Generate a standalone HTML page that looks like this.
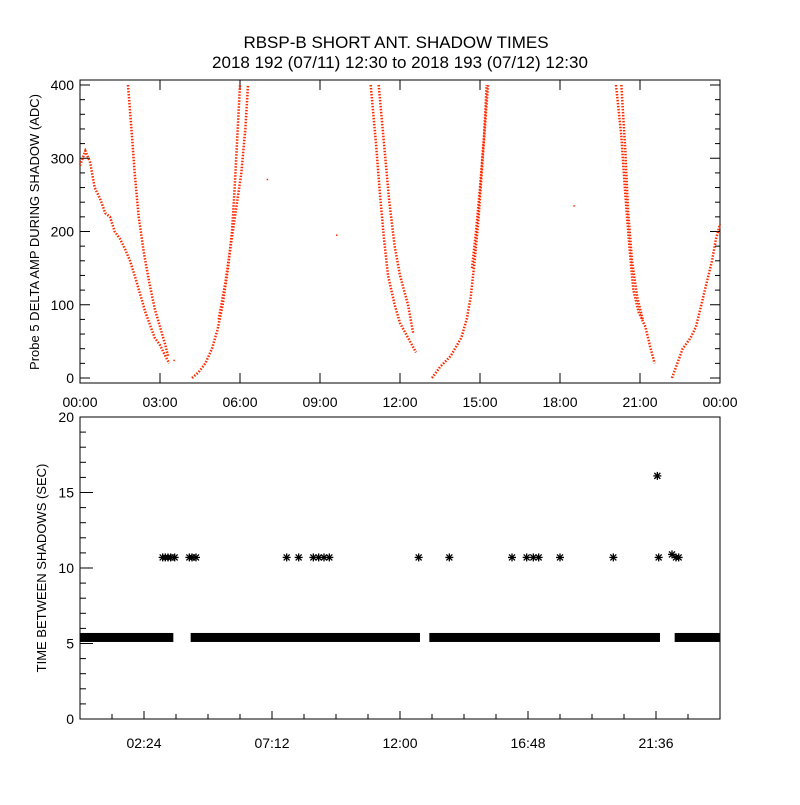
<!DOCTYPE html>
<html><head><meta charset="utf-8"><style>
body{margin:0;background:#fff}
svg text{font-family:"Liberation Sans",sans-serif;fill:#000}
</style></head><body>
<svg id="c" width="800" height="800" xmlns="http://www.w3.org/2000/svg">
<rect width="800" height="800" fill="#fff"/>
<text x="396" y="48" text-anchor="middle" font-size="17">RBSP-B SHORT ANT. SHADOW TIMES</text>
<text x="400" y="68" text-anchor="middle" font-size="17">2018 192 (07/11) 12:30 to 2018 193 (07/12) 12:30</text>
<g id="topPanel"></g>
<g id="botPanel"></g>
</svg>
<script>
// ---- top panel data (hours, ADC) ----
const topTicksX = ["00:00","03:00","06:00","09:00","12:00","15:00","18:00","21:00","00:00"];
const topTicksY = [0,100,200,300,400];
const pass1a = [[0,290],[0.2,310],[0.375,295],[0.55,260],[0.75,245],[0.95,225],[1.125,220],[1.3,200],[1.5,190],[1.7,175],[1.875,160],[2.05,140],[2.25,115],[2.45,90],[2.6,75],[2.8,55],[3.0,45],[3.2,30],[3.35,20]];
const pass1b = [[1.8,400],[1.95,330],[2.05,280],[2.2,220],[2.4,170],[2.6,130],[2.8,95],[3.0,70],[3.2,45],[3.3,30]];
const pass2a = [[4.2,0],[4.45,8],[4.7,20],[4.95,40],[5.15,65],[5.35,100],[5.55,150],[5.7,200],[5.8,260],[5.9,330],[6.0,400]];
const pass2b = [[5.2,80],[5.45,130],[5.65,180],[5.85,230],[6.05,280],[6.2,340],[6.3,400]];
const pass3a = [[10.9,400],[11.1,320],[11.25,250],[11.4,190],[11.55,140],[11.8,100],[12.0,75],[12.3,55],[12.6,35]];
const pass3b = [[11.2,400],[11.4,320],[11.6,240],[11.8,180],[12.0,140],[12.3,100],[12.5,60]];
const pass4a = [[13.2,0],[13.5,15],[13.9,30],[14.3,55],[14.5,80],[14.65,110],[14.8,160],[14.95,220],[15.1,300],[15.3,400]];
const pass4b = [[14.7,150],[14.85,200],[15.0,260],[15.15,330],[15.25,400]];
const pass5a = [[20.1,400],[20.3,330],[20.45,250],[20.6,180],[20.75,120],[20.95,90],[21.2,70],[21.4,40],[21.55,20]];
const pass5b = [[20.3,400],[20.45,310],[20.55,230],[20.7,160],[20.9,110],[21.1,80]];
const pass6 = [[22.2,0],[22.4,20],[22.6,40],[22.9,55],[23.1,70],[23.3,100],[23.5,130],[23.7,160],[23.85,190],[24,210]];
const strayT = [7.0,9.6,18.5,3.5];
const strayV = [272,196,236,25];
// ---- bottom panel data ----
const botTicksLabels = ["02:24","07:12","12:00","16:48","21:36"];
const botTicksY = [0,5,10,15,20];
const baseValue = 5.4;
const baseSegments = [[0,3.5],[4.15,12.75],[13.1,21.75],[22.3,24]];
const highT = [3.1,3.2,3.3,3.4,3.55,4.1,4.2,4.35,7.75,8.2,8.75,8.95,9.15,9.35,12.7,13.85,16.2,16.75,17.0,17.2,18.0,20.0,21.7,22.2,22.35,22.45];
const highV = [10.7,10.7,10.7,10.7,10.7,10.7,10.7,10.7,10.7,10.7,10.7,10.7,10.7,10.7,10.7,10.7,10.7,10.7,10.7,10.7,10.7,10.7,10.7,10.9,10.7,10.7];
const peakT = [21.65];
const peakV = [16.1];

const NS="http://www.w3.org/2000/svg";
function mk(tag,attrs,parent){const e=document.createElementNS(NS,tag);for(const k in attrs)e.setAttribute(k,attrs[k]);parent.appendChild(e);return e;}
const tx=h=>80+h/24*640;
const ty=v=>378-v*293/400;
const bx=h=>80+h/24*640;
const by=v=>719-v*15.1;

const topG=document.getElementById('topPanel');
let r=mk('rect',{x:80,y:80,width:640,height:303,fill:'none',stroke:'#000','stroke-width':1},topG);


for(let v=0;v<=400;v+=20){const big=v%100===0;const l=mk('line',{x1:80,x2:big?90:85,y1:ty(v),y2:ty(v),stroke:'#000'},topG);


const l2=mk('line',{x1:720,x2:big?710:715,y1:ty(v),y2:ty(v),stroke:'#000'},topG);

}
topTicksY.forEach(v=>{const t=mk('text',{x:74,y:ty(v)+5,'text-anchor':'end','font-size':14},topG);t.textContent=v;

});
topTicksX.forEach((s,i)=>{const x=tx(i*3);const l=mk('line',{x1:x,x2:x,y1:383,y2:373,stroke:'#000'},topG);


const l2=mk('line',{x1:x,x2:x,y1:80,y2:90,stroke:'#000'},topG);


const t=mk('text',{x:x,y:407,'text-anchor':'middle','font-size':14},topG);t.textContent=s;

});
const yt=mk('text',{x:0,y:0,'text-anchor':'middle','font-size':13,transform:'translate(39,232) rotate(-90)'},topG);yt.textContent='Probe 5 DELTA AMP DURING SHADOW (ADC)';


[pass1a,pass1b,pass2a,pass2b,pass3a,pass3b,pass4a,pass4b,pass5a,pass5b,pass6].forEach(p=>{
 const pts=p.map(d=>tx(d[0])+','+ty(d[1])).join(' ');
 const pl=mk('polyline',{points:pts,fill:'none',stroke:'#ff2a00','stroke-width':2.5,'stroke-dasharray':'1.5 1.5'},topG);
 
 
});
strayT.forEach((t,i)=>{const d=mk('rect',{x:tx(t),y:ty(strayV[i]),width:1.5,height:1.5,fill:'#ff2a00'},topG);

});

const botG=document.getElementById('botPanel');
r=mk('rect',{x:80,y:417,width:640,height:302,fill:'none',stroke:'#000'},botG);


for(let v=0;v<=20;v+=1){const big=v%5===0;const l=mk('line',{x1:80,x2:big?93:86,y1:by(v),y2:by(v),stroke:'#000'},botG);

}
botTicksY.forEach(v=>{const t=mk('text',{x:74,y:by(v)+5,'text-anchor':'end','font-size':14},botG);t.textContent=v;

});
for(let i=1;i<20;i++){const x=bx(i*1.2);const big=i%4===2;const l=mk('line',{x1:x,x2:x,y1:719,y2:big?711:714,stroke:'#000'},botG);

}
botTicksLabels.forEach((s,i)=>{const t=mk('text',{x:bx(2.4+i*4.8),y:748,'text-anchor':'middle','font-size':14},botG);t.textContent=s;

});
const yt2=mk('text',{x:0,y:0,'text-anchor':'middle','font-size':13,transform:'translate(46,568) rotate(-90)'},botG);yt2.textContent='TIME BETWEEN SHADOWS (SEC)';


baseSegments.forEach(s=>{const b=mk('rect',{x:bx(s[0]),y:by(baseValue)-4.5,width:bx(s[1])-bx(s[0]),height:9,fill:'#000'},botG);

});
function star(x,y){const g=mk('g',{stroke:'#000','stroke-width':1.3},botG);
 
 
 mk('line',{x1:x-4,x2:x+4,y1:y,y2:y},g);mk('line',{x1:x,x2:x,y1:y-4,y2:y+4},g);
 mk('line',{x1:x-3,x2:x+3,y1:y-3,y2:y+3},g);mk('line',{x1:x-3,x2:x+3,y1:y+3,y2:y-3},g);}
highT.forEach((t,i)=>star(bx(t),by(highV[i])));
peakT.forEach((t,i)=>star(bx(t),by(peakV[i])));
</script>
</body></html>
